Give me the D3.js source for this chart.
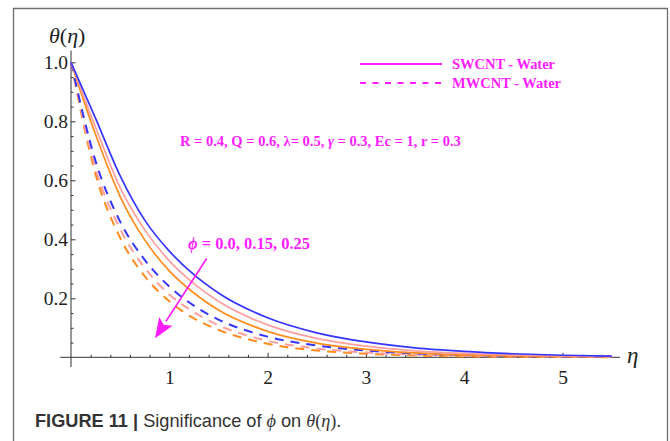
<!DOCTYPE html>
<html>
<head>
<meta charset="utf-8">
<script src="https://cdn.jsdelivr.net/npm/d3@7"></script>
<style>
  html, body { margin: 0; padding: 0; background: #fff; }
  svg { display: block; }
</style>
</head>
<body>
<script>
// Temperature profiles θ(η) for three nanoparticle volume fractions φ
const eta = [0, 0.25, 0.5, 0.75, 1, 1.25, 1.5, 2, 2.5, 3, 3.5, 4, 4.5, 5, 5.5];
const phiValues = ["0.0", "0.15", "0.25"];

// SWCNT - Water (solid)
const swBlue   = [1, 0.81, 0.615, 0.465, 0.36, 0.28, 0.218, 0.134, 0.083, 0.052, 0.032, 0.02, 0.012, 0.007, 0.004];
const swPink   = [1, 0.78, 0.575, 0.432, 0.327, 0.25, 0.19, 0.11, 0.064, 0.038, 0.022, 0.013, 0.008, 0.005, 0.003];
const swOrange = [1, 0.755, 0.545, 0.398, 0.293, 0.218, 0.16, 0.088, 0.048, 0.027, 0.015, 0.008, 0.005, 0.003, 0.002];

// MWCNT - Water (dashed)
const mwBlue   = [1, 0.665, 0.46, 0.33, 0.24, 0.175, 0.128, 0.07, 0.04, 0.023, 0.013, 0.008, 0.005, 0.003, 0.002];
const mwPink   = [1, 0.64, 0.435, 0.303, 0.213, 0.153, 0.109, 0.056, 0.03, 0.016, 0.009, 0.005, 0.003, 0.002, 0.001];
const mwOrange = [1, 0.62, 0.405, 0.275, 0.19, 0.132, 0.093, 0.046, 0.023, 0.012, 0.006, 0.003, 0.002, 0.001, 0.0005];

const xTicks = [1, 2, 3, 4, 5];
const yTicks = [0.2, 0.4, 0.6, 0.8, 1.0];

const colors = { blue: "#3535ff", pink: "#ff9f9f", orange: "#ff8c1c" };
const magenta = "#ff1cff";

const W = 670, H = 441;
const svg = d3.select("body").append("svg").attr("width", W).attr("height", H);

// figure frame
const frame = svg.append("g").attr("stroke", "#6e6e6e").attr("stroke-width", 1.3).attr("fill", "none");
frame.append("path").attr("d", `M13.5,${H} V8.5 H667.5 V${H}`);

const x = d3.scaleLinear().domain([0, 5]).range([71, 562.5]);
const y = d3.scaleLinear().domain([0, 1]).range([357.3, 62.3]);

const serif = "'Liberation Serif', 'Times New Roman', serif";

// axes lines
const axisG = svg.append("g").attr("stroke", "#333").attr("stroke-width", 1).attr("fill", "none");
axisG.append("line").attr("x1", x(-0.11)).attr("x2", x(5.585)).attr("y1", y(0)).attr("y2", y(0));
axisG.append("line").attr("x1", x(0)).attr("x2", x(0)).attr("y1", y(-0.033)).attr("y2", y(1.04));

// x ticks (inward/up)
const xMinor = d3.range(0.2, 5.5, 0.2).filter(v => Math.abs(v - Math.round(v)) > 1e-6);
svg.append("g").attr("transform", `translate(0,${y(0)})`)
  .call(d3.axisBottom(x).tickValues(xMinor).tickSize(-2.5).tickFormat(""))
  .call(g => g.select(".domain").remove())
  .call(g => g.selectAll("line").attr("stroke", "#333"));
svg.append("g").attr("transform", `translate(0,${y(0)})`)
  .call(d3.axisBottom(x).tickValues(xTicks).tickSize(-4.5).tickPadding(13).tickFormat(d3.format("d")))
  .call(g => g.select(".domain").remove())
  .call(g => g.selectAll("line").attr("stroke", "#333"))
  .call(g => g.selectAll("text").attr("font-family", serif).attr("font-size", 19.5).attr("fill", "#222"));

// y ticks (inward/right)
const yMinor = d3.range(0.05, 1.001, 0.05).filter(v => Math.abs(v * 5 - Math.round(v * 5)) > 1e-6);
svg.append("g").attr("transform", `translate(${x(0)},0)`)
  .call(d3.axisLeft(y).tickValues(yMinor).tickSize(-2.5).tickFormat(""))
  .call(g => g.select(".domain").remove())
  .call(g => g.selectAll("line").attr("stroke", "#333"));
svg.append("g").attr("transform", `translate(${x(0)},0)`)
  .call(d3.axisLeft(y).tickValues(yTicks).tickSize(-4.5).tickPadding(3).tickFormat(d3.format(".1f")))
  .call(g => g.select(".domain").remove())
  .call(g => g.selectAll("line").attr("stroke", "#333"))
  .call(g => g.selectAll("text").attr("font-family", serif).attr("font-size", 19.5).attr("fill", "#222"));

// axis titles
const yTitle = svg.append("text").attr("x", 49).attr("y", 43)
  .attr("font-family", serif).attr("font-size", 22).attr("fill", "#222");
yTitle.append("tspan").attr("font-style", "italic").text("θ");
yTitle.append("tspan").text("(");
yTitle.append("tspan").attr("font-style", "italic").text("η");
yTitle.append("tspan").text(")");

svg.append("text").attr("x", 627).attr("y", 363)
  .attr("font-family", serif).attr("font-size", 23).attr("font-style", "italic").attr("fill", "#222")
  .text("η");

// curves
const line = d3.line().x(d => x(d[0])).y(d => y(d[1])).curve(d3.curveMonotoneX);
const series = [
  { v: mwOrange, c: colors.orange, dash: true },
  { v: mwPink,   c: colors.pink,   dash: true },
  { v: mwBlue,   c: colors.blue,   dash: true },
  { v: swOrange, c: colors.orange, dash: false },
  { v: swPink,   c: colors.pink,   dash: false },
  { v: swBlue,   c: colors.blue,   dash: false }
];
svg.append("g").selectAll("path").data(series).join("path")
  .attr("d", s => line(eta.map((e, i) => [e, s.v[i]])))
  .attr("fill", "none")
  .attr("stroke", s => s.c)
  .attr("stroke-width", s => s.dash ? 2 : 1.7)
  .attr("stroke-dasharray", s => s.dash ? "9,7" : null);

// legend
const legend = svg.append("g");
legend.append("line").attr("x1", 360).attr("x2", 442).attr("y1", 64).attr("y2", 64)
  .attr("stroke", magenta).attr("stroke-width", 1.8);
legend.append("line").attr("x1", 360).attr("x2", 442).attr("y1", 83).attr("y2", 83)
  .attr("stroke", magenta).attr("stroke-width", 1.8).attr("stroke-dasharray", "6,6.5");
legend.append("text").attr("x", 452).attr("y", 69).attr("font-family", serif).attr("font-weight", "bold")
  .attr("font-size", 14.5).attr("fill", magenta).attr("textLength", 103).text("SWCNT - Water");
legend.append("text").attr("x", 452).attr("y", 88).attr("font-family", serif).attr("font-weight", "bold")
  .attr("font-size", 14.5).attr("fill", magenta).attr("textLength", 109).text("MWCNT - Water");

// parameter annotation
const params = svg.append("text").attr("x", 180).attr("y", 146).attr("font-family", serif)
  .attr("font-weight", "bold").attr("font-size", 14.5).attr("fill", magenta);
params.append("tspan").text("R = 0.4, Q = 0.6, ");
params.append("tspan").text("λ");
params.append("tspan").text("= 0.5, ");
params.append("tspan").attr("font-style", "italic").text("γ");
params.append("tspan").text(" = 0.3, Ec = 1, r = 0.3");

// φ annotation and arrow
const phiText = svg.append("text").attr("x", 188).attr("y", 248.5).attr("font-family", serif)
  .attr("font-weight", "bold").attr("font-size", 16.5).attr("fill", magenta);
phiText.append("tspan").attr("font-style", "italic").text("ϕ");
phiText.append("tspan").text(" = " + phiValues.join(", "));

const a0 = [x(1.38), y(0.335)], a1 = [x(0.855), y(0.065)];
const ang = Math.atan2(a1[1] - a0[1], a1[0] - a0[0]);
const headLen = 20, headW = 8;
const base = [a1[0] - headLen * Math.cos(ang), a1[1] - headLen * Math.sin(ang)];
svg.append("line").attr("x1", a0[0]).attr("y1", a0[1]).attr("x2", base[0]).attr("y2", base[1])
  .attr("stroke", magenta).attr("stroke-width", 1.7);
svg.append("path")
  .attr("d", `M${a1[0]},${a1[1]} L${base[0] + headW * Math.sin(ang)},${base[1] - headW * Math.cos(ang)} L${base[0] + 4 * Math.cos(ang)},${base[1] + 4 * Math.sin(ang)} L${base[0] - headW * Math.sin(ang)},${base[1] + headW * Math.cos(ang)} Z`)
  .attr("fill", magenta);

// caption
const sans = "'Liberation Sans', Arial, Helvetica, sans-serif";
const cap = svg.append("text").attr("x", 35).attr("y", 427).attr("font-family", sans)
  .attr("font-size", 18.2).attr("fill", "#333");
cap.append("tspan").attr("font-weight", "bold").text("FIGURE 11 | ");
cap.append("tspan").text("Significance of ");
cap.append("tspan").attr("font-family", serif).attr("font-style", "italic").text("ϕ");
cap.append("tspan").text(" on ");
cap.append("tspan").attr("font-family", serif).attr("font-style", "italic").text("θ");
cap.append("tspan").attr("font-family", serif).text("(");
cap.append("tspan").attr("font-family", serif).attr("font-style", "italic").text("η");
cap.append("tspan").attr("font-family", serif).text(").");
</script>
</body>
</html>
